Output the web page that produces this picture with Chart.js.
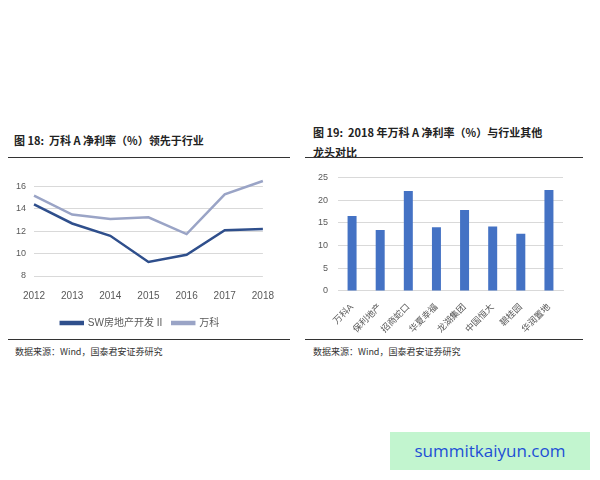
<!DOCTYPE html>
<html>
<head>
<meta charset="utf-8">
<script src="https://cdn.jsdelivr.net/npm/chart.js@4"></script>
<style>
  body { margin: 0; background: #fff; font-family: "Noto Sans CJK SC", sans-serif; }
  #page { position: relative; width: 600px; height: 480px; }
  .t { position: absolute; font-size: 11px; font-weight: bold; color: #222; font-family: "Noto Sans CJK SC", serif; }
  .src { position: absolute; font-size: 9px; color: #333; }
  .rule { position: absolute; height: 1px; background: #333; }
  .box { position: absolute; }
  #wm { position: absolute; left: 390px; top: 432px; width: 200px; height: 38px; background: #c2f5cf;
        color: #1d4fd6; font-size: 17px; font-family: "Open Sans", sans-serif; line-height: 38px; text-align: center; }
</style>
</head>
<body>
<div id="page">
  <div class="t" style="left:14px;top:132px;">图 18:&nbsp; 万科 A 净利率（%）领先于行业</div>
  <div class="t" style="left:313px;top:122px;line-height:20px;">图 19:&nbsp; 2018 年万科 A 净利率（%）与行业其他<br>龙头对比</div>
  <div class="rule" style="left:8px;top:157px;width:282px;"></div>
  <div class="rule" style="left:305px;top:157px;width:278px;"></div>
  <div class="box" style="left:8px;top:162px;width:272px;height:176px;"><canvas id="c1"></canvas></div>
  <div class="box" style="left:308px;top:162px;width:270px;height:176px;"><canvas id="c2"></canvas></div>
  <div class="rule" style="left:8px;top:339px;width:282px;"></div>
  <div class="rule" style="left:305px;top:339px;width:278px;"></div>
  <div class="src" style="left:15px;top:345px;">数据来源：Wind，国泰君安证券研究</div>
  <div class="src" style="left:313px;top:345px;">数据来源：Wind，国泰君安证券研究</div>
  <div id="wm">summitkaiyun.com</div>
</div>
<script>
// 图18 数据
const years = ['2012', '2013', '2014', '2015', '2016', '2017', '2018'];
const swIndustry = [14.4, 12.7, 11.6, 9.25, 9.9, 12.1, 12.2];
const vanke = [15.2, 13.5, 13.1, 13.25, 11.75, 15.3, 16.5];

// 图19 数据
const companies = ['万科A', '保利地产', '招商蛇口', '华夏幸福', '龙湖集团', '中国恒大', '碧桂园', '华润置地'];
const margins2018 = [16.5, 13.4, 22.0, 14.0, 17.8, 14.2, 12.6, 22.2];

Chart.defaults.font.family = '"Liberation Sans", "Noto Sans CJK SC", sans-serif';
Chart.defaults.color = '#595959';
Chart.defaults.animation = false;

const grid = { color: '#d9d9d9', drawTicks: false };

new Chart(document.getElementById('c1').getContext('2d'), {
    type: 'line',
    data: {
        labels: years,
        datasets: [
            { label: 'SW房地产开发 II', data: swIndustry, borderColor: '#2f4f8c', borderWidth: 2.5, pointRadius: 0, tension: 0 },
            { label: '万科', data: vanke, borderColor: '#9aa4c6', borderWidth: 2.5, pointRadius: 0, tension: 0 }
        ]
    },
    options: {
        responsive: true,
        maintainAspectRatio: false,
        layout: { padding: { right: 8 } },
        plugins: {
            legend: { position: 'bottom', labels: { boxWidth: 22, boxHeight: 2, font: { size: 10 } } },
            tooltip: { enabled: false }
        },
        scales: {
            x: { grid: { display: false }, border: { display: false }, ticks: { font: { size: 10 }, padding: 6 } },
            y: { min: 8, max: 17, grid: grid, border: { display: false },
                 ticks: { stepSize: 1, font: { size: 9 }, padding: 8 } }
        }
    }
});

new Chart(document.getElementById('c2').getContext('2d'), {
    type: 'bar',
    data: {
        labels: companies,
        datasets: [{ data: margins2018, backgroundColor: '#4472c4', categoryPercentage: 0.8, barPercentage: 0.4 }]
    },
    options: {
        responsive: true,
        maintainAspectRatio: false,
        layout: { padding: { right: 15 } },
        plugins: { legend: { display: false }, tooltip: { enabled: false } },
        scales: {
            x: { grid: { display: false }, border: { color: '#d9d9d9' },
                 ticks: { font: { size: 9 }, maxRotation: 45, minRotation: 45 } },
            y: { min: 0, max: 25, grid: grid, border: { display: false },
                 ticks: { stepSize: 5, font: { size: 9 }, padding: 10 } }
        }
    }
});
</script>
</body>
</html>
